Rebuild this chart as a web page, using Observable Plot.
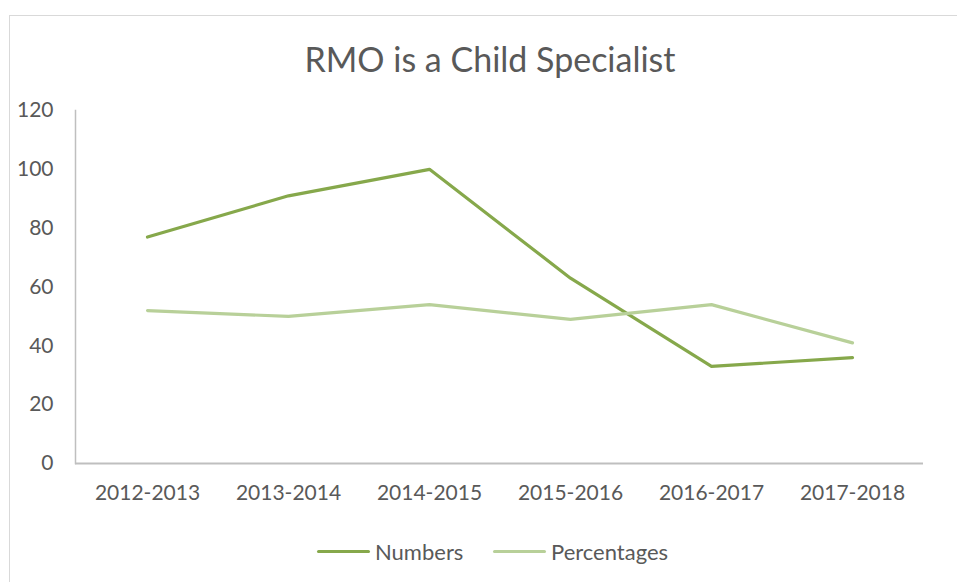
<!DOCTYPE html>
<html>
<head>
<meta charset="utf-8">
<script src="https://cdn.jsdelivr.net/npm/d3@7"></script>
<script src="https://cdn.jsdelivr.net/npm/@observablehq/plot@0.6"></script>
<style>
  html, body { margin: 0; padding: 0; background: #fff; }
  #wrap { position: relative; width: 957px; height: 582px; overflow: hidden; font-family: Lato, "Open Sans", sans-serif; color: #595959; }
  #border { position: absolute; left: 9px; top: 15px; width: 1000px; height: 700px; border: 1px solid #d9d9d9; box-sizing: border-box; }
  #title { position: absolute; left: 0; width: 980px; top: 38px; text-align: center; font-size: 34px; color: #595959; }
  #chart { position: absolute; left: 0; top: 0; }
  #legend { position: absolute; top: 538px; left: 0; width: 957px; height: 28px; font-size: 22px; color: #595959; }
  .li { position: absolute; top: 0; display: flex; align-items: center; }
  .sw { display: inline-block; width: 53px; height: 3px; border-radius: 2px; margin-right: 5px; }
</style>
</head>
<body>
<div id="wrap">
  <div id="border"></div>
  <div id="title">RMO is a Child Specialist</div>
  <div id="chart"></div>
  <div id="legend"></div>
</div>
<script>
const years = ["2012-2013", "2013-2014", "2014-2015", "2015-2016", "2016-2017", "2017-2018"];
const numbers = [77, 91, 100, 63, 33, 36];
const percentages = [52, 50, 54, 49, 54, 41];
const seriesNames = ["Numbers", "Percentages"];
const seriesColors = ["#86A84B", "#B8D099"];
const yTicks = [0, 20, 40, 60, 80, 100, 120];

const rows = [];
years.forEach((y, i) => {
  rows.push({year: y, value: numbers[i], series: seriesNames[0]});
  rows.push({year: y, value: percentages[i], series: seriesNames[1]});
});

const plot = Plot.plot({
  width: 957,
  height: 520,
  marginTop: 110,
  marginBottom: 57,
  marginLeft: 75,
  marginRight: 34,
  style: {fontFamily: "Lato, 'Open Sans', sans-serif", fontSize: "21px", color: "#595959", background: "transparent"},
  x: {type: "point", domain: years, padding: 0.5, label: null},
  y: {domain: [0, 120], label: null},
  color: {domain: seriesNames, range: seriesColors},
  marks: [
    Plot.frame({anchor: "left", stroke: "#bfbfbf", strokeWidth: 1.5}),
    Plot.ruleY([0], {stroke: "#bfbfbf", strokeWidth: 2}),
    Plot.axisY({ticks: yTicks, tickSize: 0, tickPadding: 22, label: null, fill: "#595959"}),
    Plot.axisX({tickSize: 0, tickPadding: 22, label: null, fill: "#595959"}),
    Plot.line(rows, {x: "year", y: "value", stroke: "series", z: "series", strokeWidth: 3.2, strokeLinejoin: "round", strokeLinecap: "round"})
  ]
});
document.getElementById("chart").appendChild(plot);

const legend = document.getElementById("legend");
const pos = [317, 493];
seriesNames.forEach((name, i) => {
  const item = document.createElement("div");
  item.className = "li";
  item.style.left = pos[i] + "px";
  const sw = document.createElement("span");
  sw.className = "sw";
  sw.style.background = seriesColors[i];
  const t = document.createElement("span");
  t.textContent = name;
  item.appendChild(sw);
  item.appendChild(t);
  legend.appendChild(item);
});
</script>
</body>
</html>
